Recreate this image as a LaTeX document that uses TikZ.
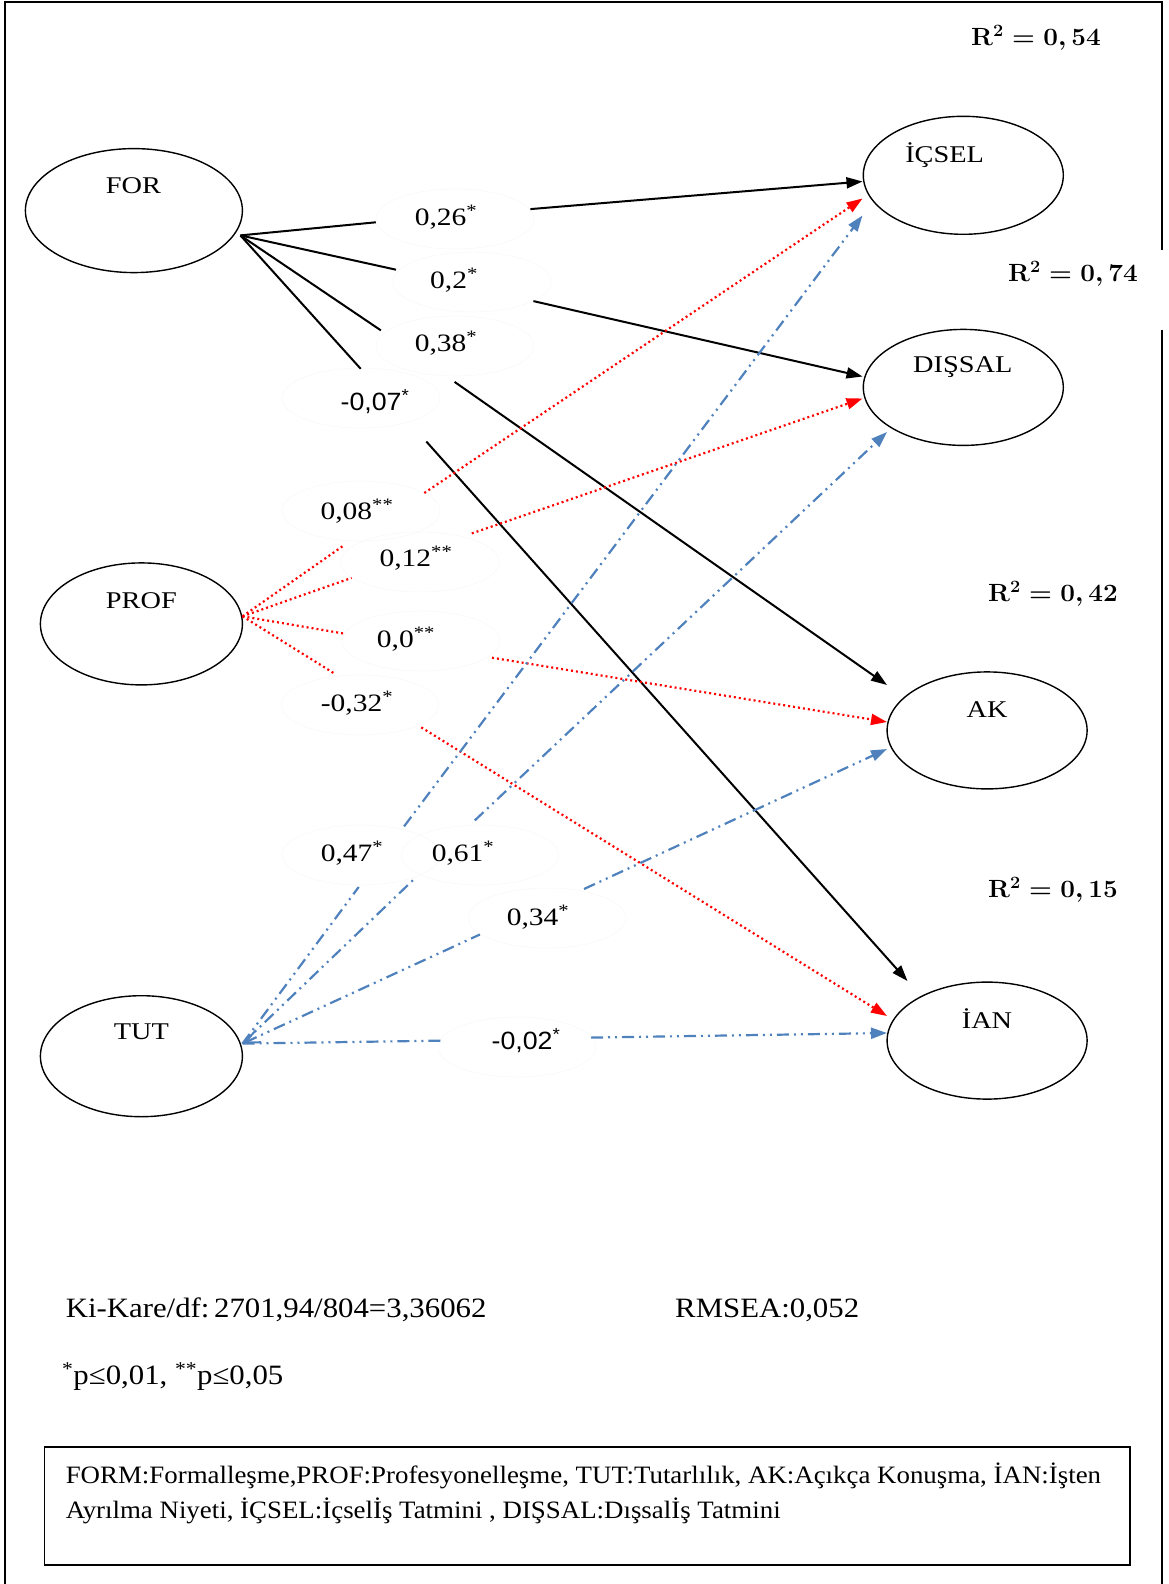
\documentclass[tikz,border=0pt]{standalone}
\usepackage[no-math]{fontspec}
\usepackage{graphicx}
\setmainfont{Liberation Serif}
\newfontfamily\labfont[FakeStretch=1.18]{Liberation Serif}
\newfontfamily\coefsans[FakeStretch=1.07]{Liberation Sans}
\newfontfamily\notefont[FakeStretch=1.1]{Liberation Serif}
\newfontfamily\legfont[FakeStretch=1.075]{Liberation Serif}
\usetikzlibrary{arrows.meta,shapes.geometric}
\definecolor{cblue}{RGB}{79,129,189}
\definecolor{cred}{RGB}{255,0,0}
\tikzset{
 var/.style={ellipse,draw,line width=1.4pt,inner sep=0pt,outer sep=0pt},
 vname/.style={font=\labfont\fontsize{24}{28}\selectfont,inner sep=0pt},
 coefbox/.style={ellipse,draw=black!3,line width=0.5pt,minimum width=158pt,minimum height=60pt,inner sep=0pt},
 coef/.style={font=\labfont\fontsize{25}{30}\selectfont,inner sep=0pt},
 coefs/.style={font=\coefsans\fontsize{25}{30}\selectfont,inner sep=0pt},
 blk/.style={line width=2pt,black},
 rdot/.style={line width=2.2pt,cred,dash pattern=on 2pt off 3pt},
 bdd/.style={line width=2.2pt,cblue,dash pattern=on 12pt off 5pt on 2pt off 5pt on 2pt off 5pt},
 tip/.style={-{Triangle[length=16pt,width=11pt]}},
 rsq/.style={inner sep=0pt,anchor=east},
 note/.style={font=\notefont\fontsize{28}{34}\selectfont,inner sep=0pt,anchor=west},
 legtxt/.style={font=\legfont\fontsize{25}{30}\selectfont,inner sep=0pt,anchor=west},
}
\newcommand{\rsqtext}[1]{\scalebox{1.05}[1]{\fontsize{24}{28}\selectfont\boldmath$\mathbf{R}^{\mathbf{2}}=#1$}}
\begin{document}
\begin{tikzpicture}[x=1pt,y=-1pt]
\useasboundingbox (0,0) rectangle (1169,1584);
% frame
\draw[line width=2pt] (5,1584) -- (5,2) -- (1162,2) -- (1162,250);
\draw[line width=2pt] (1162,330) -- (1162,1584);

% latent variables
\node[var,minimum width=217pt,minimum height=124pt] (FOR) at (133.9,210.6) {};
\node[var,minimum width=202pt,minimum height=122pt] (PROF) at (141.4,623.9) {};
\node[var,minimum width=202pt,minimum height=121pt] (TUT) at (141.4,1056.2) {};
\node[var,minimum width=200pt,minimum height=118pt] (ICSEL) at (963.3,175.3) {};
\node[var,minimum width=200pt,minimum height=116pt] (DISSAL) at (963.3,387.4) {};
\node[var,minimum width=200pt,minimum height=117pt] (AK) at (987.1,730.4) {};
\node[var,minimum width=200pt,minimum height=117pt] (IAN) at (987.1,1040.6) {};

\node[vname] (FORt) at (133.4,186) {FOR};
\node[vname] (PROFt) at (141.4,601) {PROF};
\node[vname] (TUTt) at (141.4,1032) {TUT};
\node[vname] (ICSELt) at (944.6,155) {İÇSEL};
\node[vname] (DISSALt) at (962.8,367) {DIŞSAL};
\node[vname] (AKt) at (987,710) {AK};
\node[vname] (IANt) at (987,1019) {İAN};

% R squared
\node[rsq] (r1) at (1101,38) {\rsqtext{0,54}};
\node[rsq] (r2) at (1138,274) {\rsqtext{0,74}};
\node[rsq] (r3) at (1118,594) {\rsqtext{0,42}};
\node[rsq] (r4) at (1118,890) {\rsqtext{0,15}};

% origins
\coordinate (FORo) at (240.4,235.4);
\coordinate (PROFo) at (242.5,616.3);
\coordinate (TUTo) at (242.5,1043.6);

% faint label ellipses
\node[coefbox] (b26) at (455,219) {};
\node[coefbox] (b2) at (472,282) {};
\node[coefbox] (b38) at (455,346) {};
\node[coefbox] (b07) at (361,398) {};
\node[coefbox] (b08) at (361,511) {};
\node[coefbox] (b12) at (420,562) {};
\node[coefbox] (b00) at (421,641) {};
\node[coefbox] (b32) at (360,705) {};
\node[coefbox] (b47) at (361,855) {};
\node[coefbox] (b61) at (480,855) {};
\node[coefbox] (b34) at (547,918) {};
\node[coefbox] (b02) at (517,1047) {};

% gap coordinates
\coordinate (fa1) at (375.8,222.3); \coordinate (fa2) at (530.4,209.1);
\coordinate (fb1) at (396,269.7);   \coordinate (fb2) at (533.4,301.1);
\coordinate (fc1) at (380.9,330.4); \coordinate (fc2) at (454.6,381.9);
\coordinate (fd1) at (360.7,368.8); \coordinate (fd2) at (426.3,441.5);
\coordinate (pa1) at (343.5,545.6); \coordinate (pa2) at (424.3,493);
\coordinate (pb1) at (351.6,577.9); \coordinate (pb2) at (471.8,533.4);
\coordinate (pc1) at (343.5,633.5); \coordinate (pc2) at (492,657.7);
\coordinate (pd1) at (333.4,672.9); \coordinate (pd2) at (421.3,727.4);
\coordinate (ta1) at (358.7,887);   \coordinate (ta2) at (404.1,826.4);
\coordinate (tb1) at (414.2,879);   \coordinate (tb2) at (474.8,820.4);
\coordinate (tc1) at (479.9,934.5); \coordinate (tc2) at (584,889);
\coordinate (td1) at (442.5,1040.6); \coordinate (td2) at (591,1037.6);
% arrow tips
\coordinate (xFI) at (862.5,181.5); \coordinate (xFD) at (862.5,376.5);
\coordinate (xFA) at (887,685);     \coordinate (xFN) at (907.5,981);
\coordinate (xPI) at (862.5,198.5); \coordinate (xPD) at (862.5,398.5);
\coordinate (xPA) at (887,722);     \coordinate (xPN) at (887,1016);
\coordinate (xTI) at (862.5,215.5); \coordinate (xTD) at (887,432);
\coordinate (xTA) at (887,749);     \coordinate (xTN) at (887,1033);

% FOR paths
\draw[blk] (FORo) -- (fa1); \draw[blk,tip] (fa2) -- (xFI);
\draw[blk] (FORo) -- (fb1); \draw[blk,tip] (fb2) -- (xFD);
\draw[blk] (FORo) -- (fc1); \draw[blk,tip] (fc2) -- (xFA);
\draw[blk] (FORo) -- (fd1); \draw[blk,tip] (fd2) -- (xFN);
% PROF paths
\draw[rdot] (PROFo) -- (pa1); \draw[rdot,tip] (pa2) -- (xPI);
\draw[rdot] (PROFo) -- (pb1); \draw[rdot,tip] (pb2) -- (xPD);
\draw[rdot] (PROFo) -- (pc1); \draw[rdot,tip] (pc2) -- (xPA);
\draw[rdot] (PROFo) -- (pd1); \draw[rdot,tip] (pd2) -- (xPN);
% TUT paths
\draw[bdd] (TUTo) -- (ta1); \draw[bdd,tip] (ta2) -- (xTI);
\draw[bdd] (TUTo) -- (tb1); \draw[bdd,tip] (tb2) -- (xTD);
\draw[bdd,{Straight Barb[length=15pt,width=13pt,line width=2pt]}-] (TUTo) -- (tc1); \draw[bdd,tip] (tc2) -- (xTA);
\draw[bdd] (TUTo) -- (td1); \draw[bdd,tip] (td2) -- (xTN);

% coefficients
\node[coef] (c26) at (446,217) {0,26\textsuperscript{*}};
\node[coef] (c2) at (454,280) {0,2\textsuperscript{*}};
\node[coef] (c38) at (446,343) {0,38\textsuperscript{*}};
\node[coefs] (c07) at (375,402) {-0,07\textsuperscript{*}};
\node[coef] (c08) at (357,511) {0,08\textsuperscript{**}};
\node[coef] (c12) at (416,558) {0,12\textsuperscript{**}};
\node[coef] (c00) at (406,639) {0,0\textsuperscript{**}};
\node[coef] (c32) at (357,703) {-0,32\textsuperscript{*}};
\node[coef] (c47) at (352,853) {0,47\textsuperscript{*}};
\node[coef] (c61) at (463,853) {0,61\textsuperscript{*}};
\node[coef] (c34) at (538,917) {0,34\textsuperscript{*}};
\node[coefs] (c02) at (526,1041) {-0,02\textsuperscript{*}};

% fit statistics
\node[note] (chi) at (65.6,1310) {Ki-Kare/df:\,2701,94/804=3,36062};
\node[note] (rmsea) at (675,1310) {RMSEA:0,052};
\node[note] (pval) at (62,1376.7) {\textsuperscript{*}p≤0,01, \textsuperscript{**}p≤0,05};

% legend
\node[draw,line width=1.8pt,minimum width=1085.5pt,minimum height=118.3pt,anchor=north west,inner sep=0pt,outer sep=0pt] (legbox) at (44.5,1446.7) {};
\node[legtxt] (leg1) at (65.6,1476) {FORM:Formalleşme,PROF:Profesyonelleşme, TUT:Tutarlılık, AK:Açıkça Konuşma, İAN:İşten};
\node[legtxt] (leg2) at (65.6,1511) {Ayrılma Niyeti, İÇSEL:İçselİş Tatmini , DIŞSAL:Dışsalİş Tatmini};
\end{tikzpicture}
\end{document}
